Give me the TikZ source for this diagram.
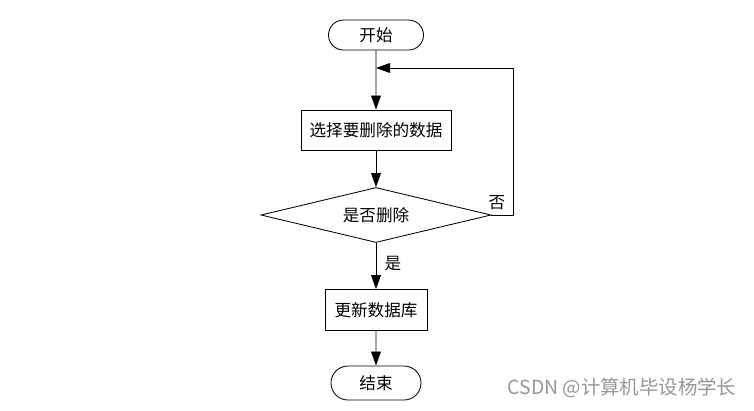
\documentclass[tikz,border=0pt]{standalone}
\usepackage{fontspec}
\usetikzlibrary{arrows.meta,shapes.geometric,shapes.misc}
\newfontfamily\cjk{Noto Sans CJK SC}
\definecolor{line_black}{RGB}{0,0,0}
\definecolor{mark_gray}{RGB}{150,150,150}

\begin{document}
\begin{tikzpicture}[->,semithick,>={Triangle[length=10pt,width=7pt]},x=0.025cm,y=-0.025cm]
    \tikzstyle{txt}=[font=\cjk\fontsize{11.8}{14}\selectfont,text=black]
    \tikzstyle{term}=[style=txt,draw=line_black,rounded rectangle,inner sep=0pt]
    \tikzstyle{proc}=[style=txt,draw=line_black,rectangle,inner sep=0pt]
    \tikzstyle{dec}=[style=txt,draw=line_black,diamond,aspect=4,inner sep=0pt]
    \useasboundingbox (0,0) rectangle (754,410);

    \node[term,minimum width=2.375cm,minimum height=0.75cm] (start) at (376,35)  {开始};
    \node[proc,minimum width=3.75cm,minimum height=1cm]     (pick)  at (376,130) {选择要删除的数据};
    \node[dec,minimum width=5.75cm,minimum height=1.375cm]  (ask)   at (376,215) {是否删除};
    \node[proc,minimum width=2.55cm,minimum height=1.025cm] (upd)   at (376,310) {更新数据库};
    \node[term,minimum width=2.25cm,minimum height=0.85cm]  (stop)  at (376,383) {结束};
    \coordinate (loop) at (376,68);
    \node[txt] (no)  at (497,203) {否};
    \node[txt] (yes) at (393,264) {是};
    \node[font=\cjk\fontsize{13.8}{16}\selectfont,text=mark_gray] (mark) at (622,388) {CSDN @计算机毕设杨学长};
    \path
     (start) edge[] (pick)
     (pick)  edge[] (ask)
     (ask)   edge[] (upd)
     (upd)   edge[] (stop)
     ;
    \draw (ask.east) -- (513,215) |- (loop);
  \end{tikzpicture}
\end{document}
